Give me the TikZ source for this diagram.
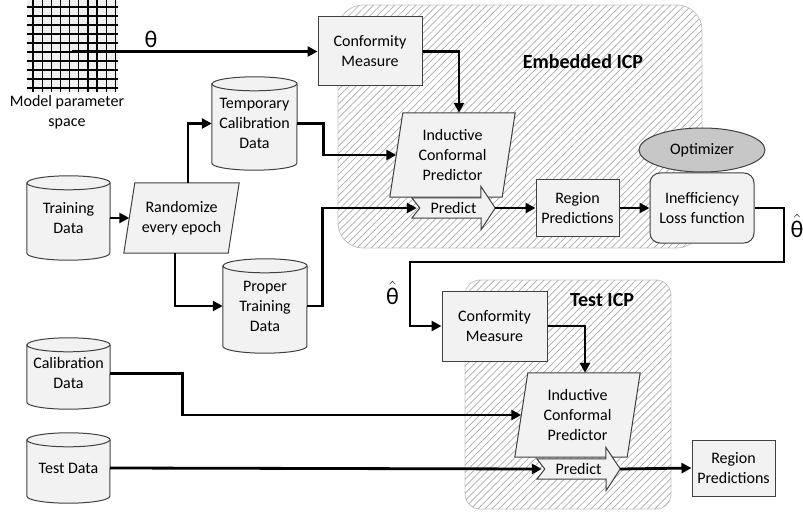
\documentclass[tikz,border=0pt]{standalone}
\usepackage{fontspec}
\setmainfont{Carlito}
\usetikzlibrary{arrows.meta,calc,patterns.meta,shapes.geometric}
\pgfdeclarelayer{bg}
\pgfdeclarelayer{mid}
\pgfsetlayers{bg,mid,main}

\newcommand\mycyl[6]{%
  \node[txt,minimum width=#4pt,minimum height=#5pt] (#1) at (#2,#3) {#6};
  \begin{pgfonlayer}{mid}
    \draw[shp] ($(#1.north west)+(0,7)$) -- ($(#1.south west)+(0,-7)$)
      arc[start angle=180,end angle=360,x radius=#4pt/2,y radius=7pt]
      -- ($(#1.north east)+(0,7)$)
      arc[start angle=0,end angle=180,x radius=#4pt/2,y radius=7pt] -- cycle;
    \draw[shp,fill=none] ($(#1.north west)+(0,7)$)
      arc[start angle=180,end angle=360,x radius=#4pt/2,y radius=7pt];
  \end{pgfonlayer}}

\newcommand\mypara[7]{%
  \node[txt,minimum width=#4pt,minimum height=#5pt] (#1) at (#2,#3) {#7};
  \begin{pgfonlayer}{mid}
    \draw[shp] ($(#1.north west)+(#6,0)$) -- (#1.north east)
      -- ($(#1.south east)+(-#6,0)$) -- (#1.south west) -- cycle;
  \end{pgfonlayer}}

\newcommand\mypred[3]{%
  \node[txt,minimum width=83pt,minimum height=20pt] (#1) at (#2,#3) {Predict};
  \begin{pgfonlayer}{mid}
    \draw[shp] (#1.north west) -- ++(69,0) -- ++(0,-11.5) -- (#1.east)
      -- ++(-14,21.5) -- ++(0,-11.5) -- (#1.south west)
      -- ($(#1.west)+(8,0)$) -- cycle;
  \end{pgfonlayer}}

\begin{document}
\begin{tikzpicture}[x=1pt,y=-1pt,
  conn/.style={line width=2.8pt,-{Triangle[length=10pt,width=10pt]}},
  txt/.style={font=\fontsize{16}{20}\selectfont,align=center,inner sep=0pt},
  shp/.style={draw=black!75,line width=1pt,fill=black!5},
  bx/.style={txt,shp},
  region/.style={draw=black!22,line width=0.8pt,fill=white},
  hatch/.style={pattern={Lines[angle=45,distance=5pt,line width=0.7pt]},pattern color=black!33},
  lbl/.style={font=\fontsize{20}{24}\selectfont\bfseries,inner sep=0pt},
  th/.style={font=\fontsize{24}{24}\selectfont,inner sep=0pt}]
\useasboundingbox (0,0) rectangle (803,513);

% regions
\begin{pgfonlayer}{bg}
  \draw[region,rounded corners=25pt] (338,5) rectangle (702,248);
  \fill[hatch,rounded corners=25pt] (338,5) rectangle (702,248);
  \draw[region,rounded corners=15pt] (465,280) rectangle (671,509);
  \fill[hatch,rounded corners=15pt] (465,280) rectangle (671,509);
\end{pgfonlayer}
\node[lbl] (emb) at (583,62) {Embedded ICP};
\node[lbl] (tst) at (602,300) {Test ICP};

% parameter grid
\fill[black!6] (27,0) rectangle (118,92);
\foreach \i in {0,...,9} {
  \draw[line width=1.2pt] (33+9.15*\i,0) -- (33+9.15*\i,92);
  \draw[line width=1.2pt] (27,7+9*\i) -- (118,7+9*\i);
}
\coordinate (gstart) at (72,51.5);
\node[txt] (mps) at (67,112.5) {Model parameter\\space};

% embedded ICP
\node[bx,minimum width=104pt,minimum height=69pt] (cm1) at (370,51.5) {Conformity\\Measure};
\mypara{icp1}{452.5}{155}{125}{84}{13}{Inductive\\Conformal\\Predictor}
\mypred{pr1}{453.5}{208}
\node[bx,minimum width=83pt,minimum height=56pt] (rp1) at (577.5,208) {Region\\Predictions};
\node[bx,rounded corners=10pt,minimum width=104pt,minimum height=70pt] (ineff) at (702,208) {Inefficiency\\Loss function};
\node[txt,ellipse,draw=black!75,line width=1pt,fill=black!22,minimum width=126pt,minimum height=44pt] (opt) at (702,150) {Optimizer};

% data
\mycyl{train}{68.5}{218}{83}{84}{Training\\Data}
\mypara{rand}{181.5}{218}{115}{70}{11}{Randomize\\every epoch}
\mycyl{tcd}{254.5}{123.5}{85}{93}{Temporary\\Calibration\\Data}
\mycyl{ptd}{265}{306}{84}{94}{Proper\\Training\\Data}
\mycyl{cal}{68.5}{373.5}{83}{71}{Calibration\\Data}
\mycyl{test}{68.5}{468}{83}{70}{Test Data}

% test ICP
\node[bx,minimum width=105pt,minimum height=70pt] (cm2) at (494.5,326) {Conformity\\Measure};
\mypara{icp2}{577.5}{415}{125}{84}{13}{Inductive\\Conformal\\Predictor}
\mypred{pr2}{578.5}{469}
\node[bx,minimum width=83pt,minimum height=56pt] (rp2) at (733.5,468) {Region\\Predictions};

% connectors
\draw[conn] (gstart) -- (cm1.west);
\node[th] (th1) at (151,39) {θ};
\draw[conn] (cm1.east) -| ([xshift=6.5pt]icp1.north);
\draw[conn] (train.east) -- ($(rand.west)+(5.5,0)$);
\draw[conn] ([xshift=6.5pt]rand.north) |- (tcd.west);
\draw[conn] ([xshift=-6.5pt]rand.south) |- (ptd.west);
\draw[conn] (tcd.east) -- ++(26,0) |- ($(icp1.west)+(6.5,0)$);
\draw[conn] (ptd.east) -- ++(15,0) |- ($(pr1.west)+(5,0)$);
\draw[conn] (pr1.east) -- (rp1.west);
\draw[conn] (rp1.east) -- (ineff.west);
\coordinate (r1) at (784,262);
\coordinate (l1) at (410,262);
\draw[conn] (ineff.east) -| (r1) -- (l1) |- (cm2.west);
\node[th] (th2) at (797,226) {$\hat{\mbox{θ}}$};
\node[th] (th3) at (392.5,293) {$\hat{\mbox{θ}}$};
\draw[conn] (cm2.east) -| ([xshift=7.5pt]icp2.north);
\draw[conn] (cal.east) -- ++(72,0) |- ($(icp2.west)+(6.5,0)$);
\draw[conn] (test.east) -- ($(pr2.west)+(5,0)$);
\draw[conn] (pr2.east) -- (rp2.west);
\end{tikzpicture}
\end{document}
